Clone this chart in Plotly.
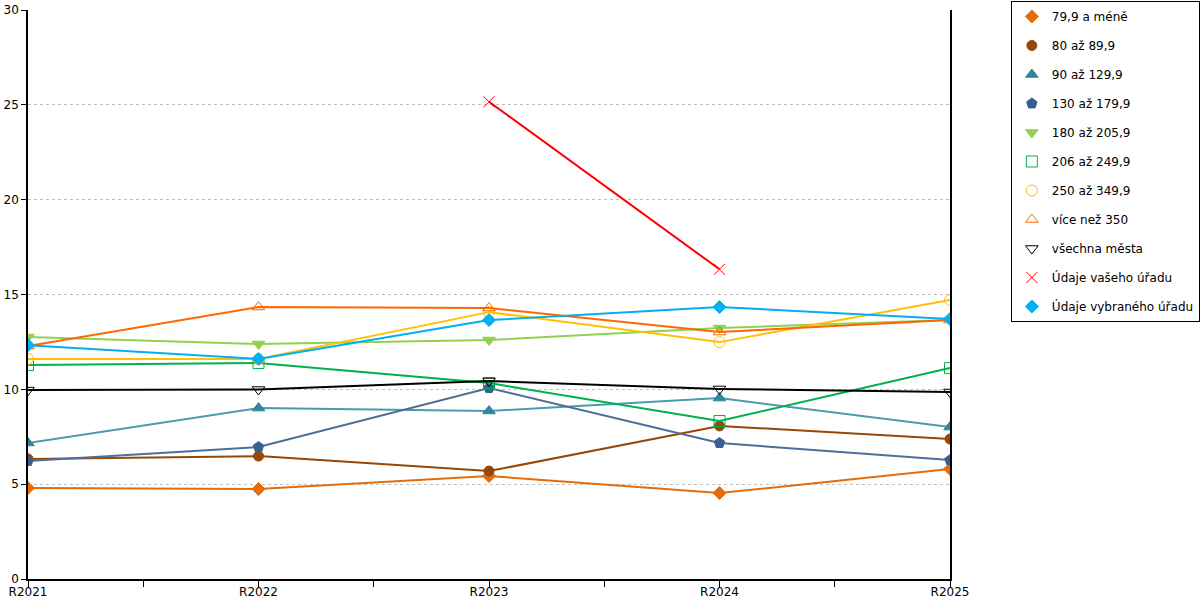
import plotly.graph_objects as go

years = ["R2021", "R2022", "R2023", "R2024", "R2025"]

s_79 = [4.80, 4.74, 5.43, 4.53, 5.80]
s_80 = [6.33, 6.48, 5.69, 8.07, 7.38]
s_90 = [7.17, 9.01, 8.86, 9.54, 8.01]
s_130 = [6.22, 6.96, 10.07, 7.17, 6.27]
s_180 = [12.76, 12.39, 12.60, 13.23, 13.65]
s_206 = [11.28, 11.39, 10.33, 8.33, 11.12]
s_250 = [11.60, 11.60, 14.07, 12.49, 14.71]
s_350 = [12.28, 14.34, 14.29, 13.02, 13.65]
s_all = [9.96, 9.99, 10.44, 10.02, 9.86]
s_vas = [None, None, 25.16, 16.33, None]
s_vyb = [12.33, 11.60, 13.65, 14.34, 13.71]

series = [
    ("79,9 a méně", s_79, "#E46C0A", "#E46C0A", "diamond", 10),
    ("80 až 89,9", s_80, "#974706", "#974706", "circle", 10),
    ("90 až 129,9", s_90, "#31859C", "#4A9BAE", "triangle-up", 11),
    ("130 až 179,9", s_130, "#366092", "#4F6D9A", "pentagon", 11),
    ("180 až 205,9", s_180, "#92D050", "#92D050", "triangle-down", 11),
    ("206 až 249,9", s_206, "#00B050", "#00B050", "square-open", 11),
    ("250 až 349,9", s_250, "#FFC000", "#FFC000", "circle-open", 11),
    ("více než 350", s_350, "#FF6600", "#FF6600", "triangle-up-open", 11),
    ("všechna města", s_all, "#000000", "#000000", "triangle-down-open", 11),
    ("Údaje vašeho úřadu", s_vas, "#FF0000", "#FF0000", "x-thin-open", 11),
    ("Údaje vybraného úřadu", s_vyb, "#00B0F0", "#00B0F0", "diamond", 10),
]

xs = list(range(len(years)))
fig = go.Figure()
for i, (name, vals, mcol, lcol, sym, size) in enumerate(series):
    fig.add_trace(go.Scatter(
        x=xs, y=vals, mode="lines+markers", name=name,
        line=dict(color=lcol, width=2),
        marker=dict(symbol=sym, size=size, color=mcol, line=dict(color=mcol, width=1)),
        legendgroup=str(i), showlegend=False, hoverinfo="name+y"))
    # marker-only legend entry
    fig.add_trace(go.Scatter(
        x=[None], y=[None], mode="markers", name=name, legendgroup=str(i),
        marker=dict(symbol=sym, size=size, color=mcol, line=dict(color=mcol, width=1))))

fig.update_layout(
    width=1200, height=600,
    margin=dict(l=28, r=250, t=10, b=21, autoexpand=False),
    plot_bgcolor="white", paper_bgcolor="white",
    font=dict(family="DejaVu Sans", size=11, color="#000000"),
    legend=dict(x=1.066, y=1.0158, xanchor="left", yanchor="top",
                bordercolor="#000000", borderwidth=1, tracegroupgap=10,
                font=dict(size=12), traceorder="grouped", itemwidth=30,
                maxheight=590),
    showlegend=True,
)
fig.update_xaxes(
    range=[0, 4], tickvals=xs, ticktext=years, showgrid=False, zeroline=False,
    showline=True, linecolor="#000000", linewidth=1.5, automargin=False,
    ticks="outside", ticklen=6, tickcolor="#000000", tickfont=dict(size=12),
    ticklabelstandoff=-5,
    minor=dict(dtick=0.5, tick0=0, ticks="outside", ticklen=6, tickcolor="#000000", showgrid=False),
)
fig.update_yaxes(
    range=[0, 30], dtick=5, showgrid=True, gridcolor="#BFBFBF", griddash="dot",
    zeroline=False, showline=True, linecolor="#000000", linewidth=1.5, mirror=True,
    ticks="outside", ticklen=5, tickcolor="#000000", automargin=False,
    tickfont=dict(size=12),
)

fig.write_html("out.html", config={"displayModeBar": False},
               post_script="document.body.style.margin='0px';")
